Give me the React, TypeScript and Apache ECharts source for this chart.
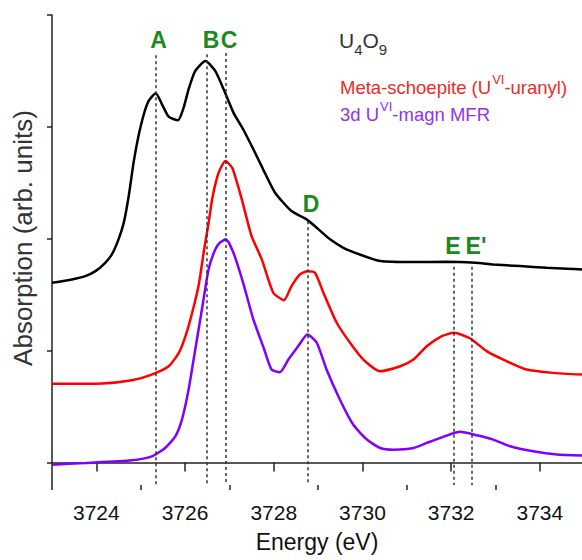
import React, { useEffect, useRef } from "react";
import * as echarts from "echarts";

const FONT = "'Liberation Sans', Arial, Helvetica, sans-serif";

// U4O9 (black)
const blackE = [3723.0, 3723.45, 3723.75, 3723.98, 3724.2, 3724.35, 3724.5, 3724.62, 3724.73, 3724.84, 3724.95, 3725.07, 3725.18, 3725.34, 3725.48, 3725.63, 3725.84, 3725.97, 3726.08, 3726.23, 3726.46, 3726.68, 3726.88, 3727.09, 3727.31, 3727.54, 3727.76, 3728.03, 3728.4, 3728.74, 3728.97, 3729.27, 3729.57, 3729.94, 3730.4, 3731.15, 3731.9, 3732.54, 3732.95, 3733.55, 3734.15, 3734.61, 3734.95];
const blackA = [1.607, 1.637, 1.666, 1.711, 1.786, 1.86, 1.995, 2.147, 2.382, 2.683, 2.919, 3.113, 3.232, 3.301, 3.202, 3.092, 3.059, 3.175, 3.336, 3.5, 3.589, 3.5, 3.327, 3.128, 2.979, 2.8, 2.621, 2.412, 2.248, 2.174, 2.099, 1.995, 1.92, 1.86, 1.801, 1.792, 1.795, 1.786, 1.771, 1.756, 1.742, 1.733, 1.726];

// Meta-schoepite (red)
const redE = [3723.0, 3724.13, 3724.8, 3725.25, 3725.63, 3725.86, 3726.01, 3726.16, 3726.31, 3726.43, 3726.52, 3726.61, 3726.71, 3726.79, 3726.91, 3727.06, 3727.15, 3727.28, 3727.5, 3727.73, 3727.99, 3728.23, 3728.4, 3728.59, 3728.76, 3728.93, 3729.12, 3729.42, 3729.72, 3730.02, 3730.4, 3730.85, 3731.15, 3731.45, 3731.79, 3732.06, 3732.43, 3732.8, 3733.25, 3733.7, 3734.3, 3734.95];
const redA = [0.704, 0.707, 0.736, 0.787, 0.861, 0.981, 1.13, 1.339, 1.592, 1.905, 2.114, 2.352, 2.531, 2.621, 2.695, 2.636, 2.531, 2.352, 2.024, 1.816, 1.518, 1.452, 1.577, 1.682, 1.711, 1.697, 1.518, 1.25, 1.071, 0.921, 0.817, 0.861, 0.921, 1.04, 1.13, 1.16, 1.109, 0.996, 0.906, 0.832, 0.802, 0.787];

// 3d U(VI)-magn MFR (purple)
const purpleE = [3723.0, 3723.75, 3724.8, 3725.25, 3725.55, 3725.78, 3725.93, 3726.08, 3726.23, 3726.38, 3726.53, 3726.68, 3726.79, 3726.92, 3727.09, 3727.31, 3727.54, 3727.76, 3727.95, 3728.14, 3728.33, 3728.55, 3728.76, 3728.97, 3729.19, 3729.49, 3729.79, 3730.1, 3730.4, 3730.7, 3731.15, 3731.45, 3731.82, 3732.2, 3732.58, 3732.95, 3733.33, 3733.85, 3734.38, 3734.95];
const purpleA = [-0.018, -0.003, 0.021, 0.056, 0.131, 0.235, 0.385, 0.653, 1.011, 1.369, 1.726, 1.905, 1.968, 1.995, 1.876, 1.607, 1.279, 1.04, 0.832, 0.808, 0.921, 1.04, 1.145, 1.071, 0.832, 0.564, 0.34, 0.206, 0.131, 0.116, 0.131, 0.176, 0.23, 0.275, 0.244, 0.206, 0.146, 0.101, 0.072, 0.063];

// Feature markers (dotted lines)
const featureNames = ["A", "B", "C", "D", "E", "E'"];
const featureE = [3725.34, 3726.48, 3726.92, 3728.77, 3732.06, 3732.47];
const featureTop = [3.64, 3.65, 3.66, 2.158, 1.75, 1.75];
// Label anchor positions (data coords)
const labelE = [3725.4, 3726.585, 3726.99, 3728.84, 3732.04, 3732.56];
const labelA = [3.775, 3.775, 3.775, 2.308, 1.937, 1.937];

const xMajorTicks = [3724, 3726, 3728, 3730, 3732, 3734];
const xMinorTicks = [3723, 3725, 3727, 3729, 3731, 3733, 3735];
const yTicks = [0, 1, 2, 3, 4];

const zip = (xs: number[], ys: number[]) => xs.map((x, i) => [x, ys[i]]);

export default function App() {
  const ref = useRef<HTMLDivElement>(null);
  useEffect(() => {
    const chart = echarts.init(ref.current!, null, { renderer: "svg" });
    const xMin = 3723;
    const xMax = 3734.95;
    const yMin = -0.2;
    const option: any = {
      animation: false,
      backgroundColor: "#ffffff",
      grid: { left: 52, right: 0, top: 15, bottom: 75, containLabel: false },
      xAxis: [
        {
          type: "value",
          min: xMin,
          max: xMax,
          axisLine: { show: true, lineStyle: { color: "#222", width: 1.5 } },
          axisTick: {
            show: true,
            inside: false,
            length: 9,
            customValues: xMajorTicks,
            lineStyle: { color: "#222", width: 1.5 },
          },
          axisLabel: {
            show: true,
            customValues: xMajorTicks,
            formatter: (v: number) => String(v),
            margin: 17,
            fontSize: 21,
            color: "#111",
            fontFamily: FONT,
          },
          splitLine: { show: false },
          name: "Energy (eV)",
          nameLocation: "middle",
          nameGap: 45,
          nameTextStyle: { fontSize: 23, color: "#111", fontFamily: FONT },
        },
        {
          type: "value",
          min: xMin,
          max: xMax,
          position: "bottom",
          axisLine: { show: false },
          axisTick: {
            show: true,
            inside: false,
            length: 5,
            customValues: xMinorTicks,
            lineStyle: { color: "#222", width: 1.5 },
          },
          axisLabel: { show: false },
          splitLine: { show: false },
        },
      ],
      yAxis: {
        type: "value",
        min: yMin,
        max: 4.0,
        axisLine: { show: true, lineStyle: { color: "#222", width: 1.5 } },
        axisTick: {
          show: true,
          inside: false,
          length: 5,
          customValues: yTicks,
          lineStyle: { color: "#222", width: 1.5 },
        },
        axisLabel: { show: false },
        splitLine: { show: false },
      },
      series: [
        {
          type: "line",
          name: "U4O9",
          data: zip(blackE, blackA),
          showSymbol: false,
          symbol: "none",
          smooth: 0.2,
          lineStyle: { color: "#000000", width: 2.5 },
          z: 3,
          markLine: {
            silent: true,
            symbol: ["none", "none"],
            label: { show: false },
            lineStyle: { color: "#333", width: 1.5, type: [3, 3] },
            data: featureE.map((x, i) => [
              { coord: [x, featureTop[i]] },
              { coord: [x, yMin] },
            ]),
          },
          markPoint: {
            silent: true,
            symbol: "rect",
            symbolSize: 1,
            itemStyle: { color: "rgba(0,0,0,0)" },
            label: {
              show: true,
              position: "inside",
              formatter: "{b}",
              color: "#1b8a1b",
              fontSize: 23,
              fontWeight: "bold",
              fontFamily: FONT,
            },
            data: featureNames.map((n, i) => ({ name: n, coord: [labelE[i], labelA[i]] })),
          },
        },
        {
          type: "line",
          name: "Meta-schoepite",
          data: zip(redE, redA),
          showSymbol: false,
          symbol: "none",
          smooth: 0.2,
          lineStyle: { color: "#ff0000", width: 2.5 },
          z: 2,
        },
        {
          type: "line",
          name: "3d MFR",
          data: zip(purpleE, purpleA),
          showSymbol: false,
          symbol: "none",
          smooth: 0.2,
          lineStyle: { color: "#8000ff", width: 2.5 },
          z: 2,
        },
      ],
      graphic: [
        {
          type: "text",
          x: 23,
          y: 238,
          rotation: Math.PI / 2,
          silent: true,
          style: {
            text: "Absorption (arb. units)",
            fontSize: 26,
            fontFamily: FONT,
            fill: "#333",
            align: "center",
            verticalAlign: "middle",
          },
        },
        {
          type: "text",
          x: 339,
          y: 30,
          silent: true,
          style: {
            text: "{m|U}{s|4}{m|O}{s|9}",
            align: "left",
            verticalAlign: "top",
            fill: "#333",
            rich: {
              m: { fontSize: 21, lineHeight: 21, verticalAlign: "top", fill: "#333", fontFamily: FONT },
              s: { fontSize: 15, lineHeight: 15, verticalAlign: "top", padding: [12, 0, 0, 0], fill: "#333", fontFamily: FONT },
            },
          },
        },
        {
          type: "text",
          x: 340,
          y: 73,
          silent: true,
          style: {
            text: "{m|Meta-schoepite (U}{sup|VI}{m|-uranyl)}",
            align: "left",
            verticalAlign: "top",
            fill: "#ee2a2a",
            rich: {
              m: { fontSize: 18.5, lineHeight: 19, verticalAlign: "top", padding: [5, 0, 0, 0], fill: "#ee2a2a", fontFamily: FONT },
              sup: { fontSize: 13, lineHeight: 13, verticalAlign: "top", padding: [0, 0, 0, 1], fill: "#ee2a2a", fontFamily: FONT },
            },
          },
        },
        {
          type: "text",
          x: 340,
          y: 100,
          silent: true,
          style: {
            text: "{m|3d U}{sup|VI}{m|-magn MFR}",
            align: "left",
            verticalAlign: "top",
            fill: "#9333ee",
            rich: {
              m: { fontSize: 18.5, lineHeight: 19, verticalAlign: "top", padding: [5, 0, 0, 0], fill: "#9333ee", fontFamily: FONT },
              sup: { fontSize: 13, lineHeight: 13, verticalAlign: "top", padding: [0, 0, 0, 1], fill: "#9333ee", fontFamily: FONT },
            },
          },
        },
      ],
    };
    chart.setOption(option);
    return () => chart.dispose();
  }, []);
  return (
    <div
      ref={ref}
      style={{ position: "fixed", left: 0, top: 0, width: 582, height: 560, background: "#ffffff" }}
    />
  );
}
